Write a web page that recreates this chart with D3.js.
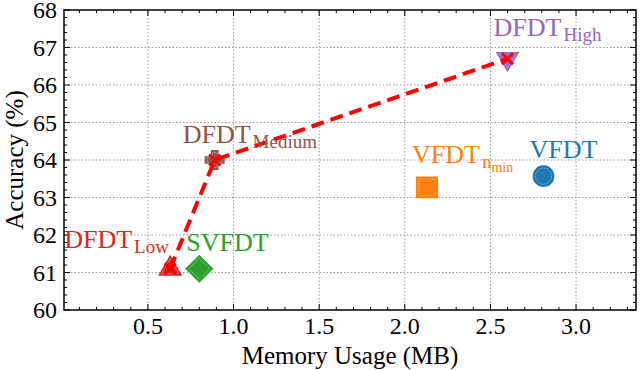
<!DOCTYPE html>
<html>
<head>
<meta charset="utf-8">
<style>
  body { margin: 0; background: #fff; }
  text { font-family: "Liberation Serif", "Times New Roman", serif; }
  .grid line { stroke: #999; stroke-width: 1; stroke-dasharray: 1.5 2; }
</style>
<script src="https://d3js.org/d3.v7.min.js"></script>
</head>
<body>
<div id="chart"></div>
<script>
// data
var methods = ["DFDT_Low", "SVFDT", "DFDT_Medium", "DFDT_High", "VFDT_nmin", "VFDT"];
var memory = [0.63, 0.80, 0.89, 2.60, 2.13, 2.81];
var accuracy = [61.1, 61.1, 64.0, 66.7, 63.27, 63.57];
var dfdtMemory = [0.63, 0.89, 2.60];
var dfdtAccuracy = [61.1, 64.0, 66.7];
var xTicks = [0.5, 1.0, 1.5, 2.0, 2.5, 3.0];
var yTicks = [60, 61, 62, 63, 64, 65, 66, 67, 68];

// styles
var colors = ["#d62728", "#2ca02c", "#8c564b", "#9467bd", "#ff7f0e", "#1f77b4"];
var shapes = ["triUp", "diamond", "plus", "triDown", "square", "circle"];
var labelMain = ["DFDT", "SVFDT", "DFDT", "DFDT", "VFDT", "VFDT"];
var labelSub = ["Low", "", "Medium", "High", "n", ""];
var labelSubSub = ["", "", "", "", "min", ""];
var labelOffset = [[-106, -21], [-13, -18], [-32, -17], [-14, -23], [-15, -24], [-14, -18]];

var width = 640, height = 370;
var margin = { left: 64, right: 4, top: 10, bottom: 60 };

var svg = d3.select("#chart").append("svg")
  .attr("width", width).attr("height", height);

var x = d3.scaleLinear().domain([0.01, 3.35]).range([margin.left, width - margin.right]);
var y = d3.scaleLinear().domain([60, 68]).range([height - margin.bottom, margin.top]);

var x0 = x.range()[0], x1 = x.range()[1], y0 = y.range()[0], y1 = y.range()[1];

// grid
var grid = svg.append("g").attr("class", "grid");
grid.selectAll(".gx").data(xTicks).enter().append("line")
  .attr("x1", d => x(d)).attr("x2", d => x(d)).attr("y1", y0).attr("y2", y1);
grid.selectAll(".gy").data(yTicks.slice(1, -1)).enter().append("line")
  .attr("x1", x0).attr("x2", x1).attr("y1", d => y(d)).attr("y2", d => y(d));

// ticks (inward, all sides)
var xMinor = d3.range(1, 34).map(d => d / 10).filter(d => Math.abs(d * 2 - Math.round(d * 2)) > 1e-6);
var yMinor = d3.range(300, 340).map(d => d / 5).filter(d => Math.abs(d - Math.round(d)) > 1e-6);
var ticks = svg.append("g").attr("stroke", "#000");
function xt(vals, len) {
  vals.forEach(function (v) {
    ticks.append("line").attr("x1", x(v)).attr("x2", x(v)).attr("y1", y0).attr("y2", y0 - len);
    ticks.append("line").attr("x1", x(v)).attr("x2", x(v)).attr("y1", y1).attr("y2", y1 + len);
  });
}
function yt(vals, len) {
  vals.forEach(function (v) {
    ticks.append("line").attr("x1", x0).attr("x2", x0 + len).attr("y1", y(v)).attr("y2", y(v));
    ticks.append("line").attr("x1", x1).attr("x2", x1 - len).attr("y1", y(v)).attr("y2", y(v));
  });
}
xt(xTicks, 6); xt(xMinor, 3);
yt(yTicks, 6); yt(yMinor, 3);

// tick labels
svg.selectAll(".xl").data(xTicks).enter().append("text")
  .attr("x", d => x(d)).attr("y", y0 + 24)
  .attr("text-anchor", "middle").attr("font-size", 24)
  .text(d => d.toFixed(1));
svg.selectAll(".yl").data(yTicks).enter().append("text")
  .attr("x", x0 - 7).attr("y", d => y(d) + 8)
  .attr("text-anchor", "end").attr("font-size", 24)
  .text(d => d);

// axis titles
svg.append("text").attr("x", (x0 + x1) / 2).attr("y", 364)
  .attr("text-anchor", "middle").attr("font-size", 25).text("Memory Usage (MB)");
svg.append("text").attr("transform", "translate(23," + ((y0 + y1) / 2) + ") rotate(-90)")
  .attr("text-anchor", "middle").attr("font-size", 25).text("Accuracy (%)");

// markers
function symbolPath(shape) {
  switch (shape) {
    case "triUp": return d3.symbol(d3.symbolTriangle, 200)();
    case "triDown": return d3.symbol(d3.symbolTriangle, 190)();
    case "diamond": return d3.symbol(d3.symbolSquare, 340)();
    case "square": return d3.symbol(d3.symbolSquare, 420)();
    case "plus": return d3.symbol(d3.symbolCross, 190)();
    default: return d3.symbol(d3.symbolCircle, 320)();
  }
}
function symbolRot(shape) {
  return shape === "triDown" ? 180 : shape === "diamond" ? 45 : 0;
}
var marks = svg.selectAll(".pt").data(methods).enter().append("g")
  .attr("transform", (d, i) => "translate(" + x(memory[i]) + "," + y(accuracy[i]) + ") rotate(" + symbolRot(shapes[i]) + ")");
marks.append("path")
  .attr("d", (d, i) => symbolPath(shapes[i]))
  .attr("fill", (d, i) => colors[i])
  .attr("stroke", (d, i) => colors[i]).attr("stroke-width", 1.5);
marks.append("path")
  .attr("d", (d, i) => symbolPath(shapes[i]))
  .attr("transform", "scale(0.8)")
  .attr("fill", "none").attr("stroke", "#fff").attr("stroke-opacity", 0.6)
  .attr("stroke-width", 0.8).attr("stroke-dasharray", "2 1");

// DFDT dashed line
var line = d3.line().x(d => x(d[0])).y(d => y(d[1]));
var dfdt = dfdtMemory.map((m, i) => [m, dfdtAccuracy[i]]);
svg.append("path").datum(dfdt).attr("d", line)
  .attr("fill", "none").attr("stroke", "#ff0000").attr("stroke-width", 4)
  .attr("stroke-dasharray", "13 7");
svg.selectAll(".xm").data(dfdt).enter().append("path")
  .attr("transform", d => "translate(" + x(d[0]) + "," + y(d[1]) + ")")
  .attr("d", "M-5.5,-5.5L5.5,5.5M-5.5,5.5L5.5,-5.5")
  .attr("stroke", "#ff0000").attr("stroke-width", 2.8);

// labels
var labels = svg.selectAll(".lab").data(methods).enter().append("text")
  .attr("x", (d, i) => x(memory[i]) + labelOffset[i][0])
  .attr("y", (d, i) => y(accuracy[i]) + labelOffset[i][1])
  .attr("fill", (d, i) => colors[i])
  .attr("font-size", 26);
labels.append("tspan").text((d, i) => labelMain[i]);
labels.append("tspan").attr("font-size", 19).attr("dy", 5).attr("dx", 2)
  .text((d, i) => labelSub[i]);
labels.append("tspan").attr("font-size", 14).attr("dy", 4)
  .text((d, i) => labelSubSub[i]);

// frame
svg.append("rect").attr("x", x0).attr("y", y1).attr("width", x1 - x0).attr("height", y0 - y1)
  .attr("fill", "none").attr("stroke", "#000").attr("stroke-width", 1.5);
</script>
</body>
</html>
